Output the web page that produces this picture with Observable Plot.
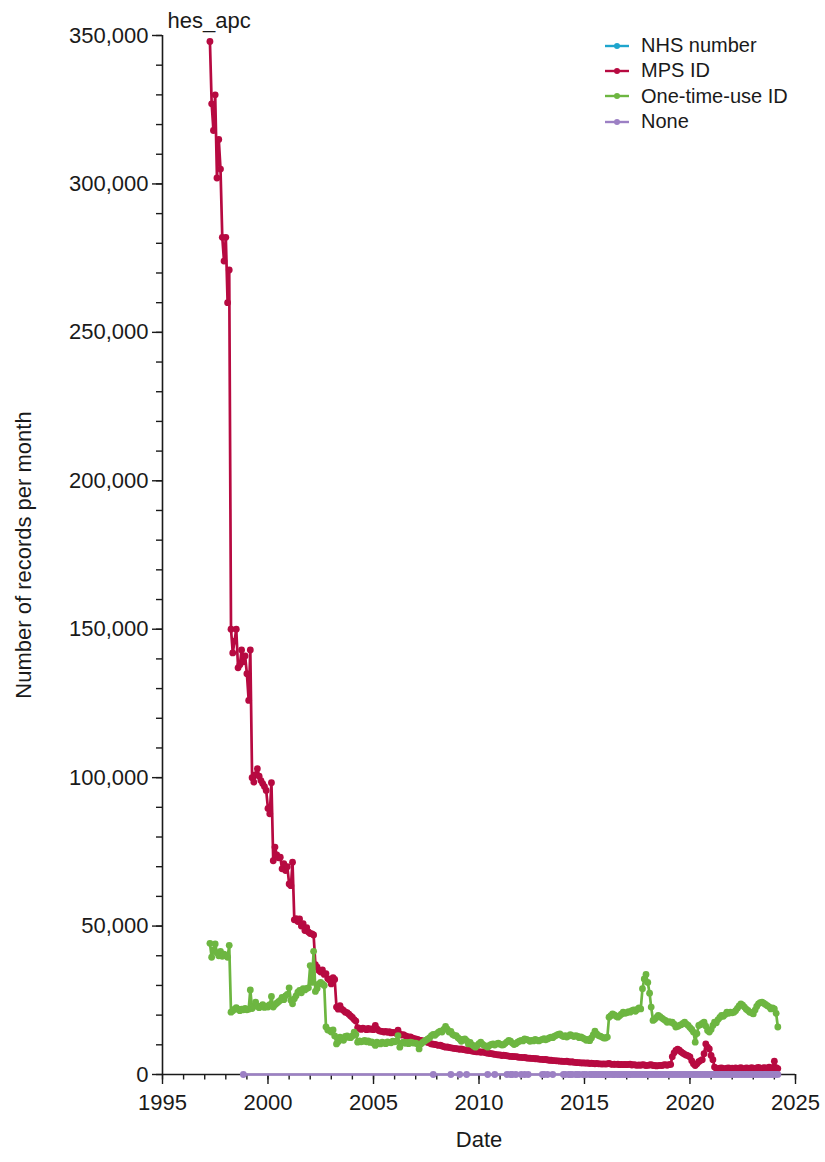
<!DOCTYPE html>
<html>
<head>
<meta charset="utf-8">
<script src="https://cdn.jsdelivr.net/npm/d3@7"></script>
<script src="https://cdn.jsdelivr.net/npm/@observablehq/plot@0.6"></script>
<style>
  body { margin: 0; background: #ffffff; }
  #chart { position: relative; width: 825px; height: 1162px; font-family: "Liberation Sans", Arial, sans-serif; }
  #legend { position: absolute; left: 605px; top: 33px; font-size: 20px; color: #1a1a1a; }
  #legend .row { display: flex; align-items: center; height: 25.3px; white-space: nowrap; }
  #legend svg { margin-right: 12px; }
</style>
</head>
<body>
<div id="chart"></div>
<script>
// Series names and colours (legend order = drawing order)
const seriesNames = ["NHS number", "MPS ID", "One-time-use ID", "None"];
const seriesColors = ["#1ea5cd", "#b70a41", "#6db641", "#9c80c4"];

// Monthly series start in April 1997; values in thousands of records per month
const firstMonth = "1997-04";

// NHS number: no monthly records
const nhsNumberK = [];

const mpsIdK = [
  348, 327, 318, 330, 302, 315, 305, 282, 274,                      // 1997 (Apr-Dec)
  282, 260, 271, 150, 142, 146, 150, 137, 138, 143, 139, 141,       // 1998
  135, 126, 143, 100, 98.5, 101, 103, 100.5, 99, 98, 97, 95.7,      // 1999
  89.6, 87.8, 98.3, 72, 76.6, 74, 73, 73.2, 69.3, 71, 68.7, 70,     // 2000
  64.2, 63.6, 71.5, 52.1, 52.5, 51.5, 52.4, 50, 50.8, 48.5, 49.5, 48, // 2001
  47.5, 47.4, 47, 37, 36.2, 35, 34.5, 35.2, 33.7, 34, 32.3, 31.8,   // 2002
  30.5, 32.6, 32, 22.7, 22, 23.2, 22, 21.6, 21, 20.8, 20.3, 19.7,   // 2003
  19.2, 18.5, 18, 15.8, 15.5, 15.2, 15.6, 15.4, 15.1, 15.5, 15.2, 15.4, // 2004
  15.1, 16.5, 15.4, 14.8, 14.6, 14.5, 14.3, 14.5, 14.2, 14.4, 14, 14.2, // 2005
  14.1, 13.8, 14.9, 13.6, 13.3, 13.4, 13.1, 12.8, 12.6, 12.7, 12.3, 12.1, // 2006
  12, 11.8, 11.6, 11.5, 11.3, 11.2, 11, 10.8, 10.6, 10.3, 10.2, 10.1, // 2007
  10, 9.8, 9.9, 9.6, 9.4, 9.2, 9.3, 9.1, 9, 8.9, 8.8, 8.7,          // 2008
  8.6, 8.5, 8.6, 8.4, 8.3, 8.2, 8.1, 8.1, 7.9, 7.8, 7.7, 7.6,       // 2009
  7.7, 7.5, 7.6, 7.5, 7.3, 7.2, 7.1, 7, 6.9, 6.8, 6.7, 6.6,         // 2010
  6.6, 6.4, 6.5, 6.4, 6.3, 6.2, 6.1, 6.1, 6, 6, 5.9, 5.8,           // 2011
  5.8, 5.7, 5.8, 5.6, 5.5, 5.5, 5.4, 5.4, 5.3, 5.3, 5.2, 5.1,       // 2012
  5.1, 5, 5.1, 4.9, 4.8, 4.8, 4.7, 4.7, 4.6, 4.6, 4.5, 4.5,         // 2013
  4.4, 4.4, 4.5, 4.3, 4.2, 4.3, 4.1, 4.1, 4, 4, 3.9, 3.9,           // 2014
  3.9, 3.8, 3.9, 3.7, 3.8, 3.7, 3.6, 3.7, 3.6, 3.6, 3.5, 3.6,       // 2015
  3.5, 3.6, 3.7, 3.5, 3.4, 3.5, 3.4, 3.5, 3.3, 3.4, 3.3, 3.4,       // 2016
  3.3, 3.4, 3.5, 3.2, 3.3, 3.2, 3.1, 3.2, 3.1, 3.3, 3.2, 3,         // 2017
  3.1, 3.2, 3.3, 3, 3.1, 2.9, 3, 3.1, 3, 3.2, 3.3, 3.1,             // 2018
  3.3, 3.4, 6, 7.3, 8.1, 8.5, 8.2, 7.6, 7.2, 6.8, 6.5, 6.3,         // 2019
  5.9, 4.6, 3.6, 3, 3.6, 4.3, 4.7, 5, 7, 10.3, 9.2, 8.6,            // 2020
  6.4, 5, 2.5, 2, 1.9, 2.1, 2.2, 2, 1.9, 2.1, 2.2, 2,               // 2021
  2.1, 1.9, 2.2, 2, 2.1, 2.3, 2, 1.9, 2.2, 2.1, 2, 2.3,             // 2022
  2.1, 2, 2.2, 2.4, 2.1, 2, 2.3, 2.2, 2, 2.5, 2.3, 2.1,             // 2023
  4.5, 2.3, 2                                                       // 2024 (Jan-Mar)
];

const oneTimeIdK = [
  44.2, 39.5, 42, 44, 41, 40, 41.5, 39.8, 40.5,                      // 1997 (Apr-Dec)
  40, 39.5, 43.5, 21, 21.5, 22, 22.5, 22, 21.5, 22, 21.8, 22.3,      // 1998
  21.8, 22, 28.5, 22.2, 23, 24.4, 23, 22.5, 23, 23.5, 22.6, 23,      // 1999
  22.7, 23.5, 26.3, 22.7, 23.5, 24, 24.5, 25, 26, 25.2, 26.5, 27,    // 2000
  29.2, 25, 23.8, 25.5, 26.5, 27.7, 28.3, 27.5, 28.9, 28.5, 29, 29.2, // 2001
  36.7, 31, 41.5, 28, 29, 30.5, 31, 30.5, 30, 16, 15, 14.8,          // 2002
  14.3, 15, 13, 10.3, 11, 12.6, 12.2, 11.5, 12.8, 13, 12.5, 12.4,    // 2003
  13, 14.3, 13.5, 10.9, 11.3, 11, 11.2, 11.5, 11, 11.3, 10.8, 11,    // 2004
  10.5, 9.8, 10.9, 10.5, 10.3, 10.9, 10.6, 10.4, 11, 10.8, 10.7, 11.2, // 2005
  11, 11.2, 13.1, 9.2, 10.6, 10.9, 10.5, 10.8, 10.4, 10.9, 10.7, 10.6, // 2006
  10.6, 10.3, 8.6, 10.3, 10.8, 11.2, 11.6, 12, 12.4, 13.1, 13.5, 13.2, // 2007
  13.8, 14.3, 14.6, 14.3, 15.2, 16.2, 15.3, 14.3, 14.5, 13.5, 13.1, 13.1, // 2008
  12.4, 11.9, 11.2, 11.8, 12, 11.4, 10.3, 10.8, 10, 9.6, 9.2, 9.8,   // 2009
  10.4, 10.9, 10.2, 9.8, 9.5, 9.2, 9.8, 10.1, 10.3, 9.9, 10.3, 10.6, // 2010
  10.2, 9.9, 10, 10.5, 11, 11.5, 11.2, 10.6, 10.1, 10.4, 10.9, 11.2, // 2011
  11.5, 11.3, 12, 11.8, 11.6, 11.2, 11.5, 11.3, 11.8, 11.5, 11.3, 11.6, // 2012
  11.8, 12.1, 11.7, 12, 12.3, 12.6, 12.4, 12.9, 13.2, 13.5, 13.7, 13.1, // 2013
  12.8, 13.1, 12.6, 13, 13.4, 13.1, 12.8, 13.1, 12.9, 12.4, 12.7, 12.3, // 2014
  12, 11.5, 11.8, 11.4, 12.3, 13.3, 14.6, 13.7, 13.1, 12.9, 12.6, 12.3, // 2015
  12.3, 12.6, 19.3, 19.8, 20.4, 20.1, 19.6, 19.3, 19.8, 20.3, 21, 20.6, // 2016
  20.8, 21.2, 21, 21.5, 21.8, 21.3, 21.9, 22.4, 22.1, 28.9, 32.2, 33.7, // 2017
  31, 27.4, 22.7, 18.2, 18.6, 19.2, 19.9, 19.5, 19, 18.6, 18.2, 17.6, // 2018
  17.8, 17.6, 17.6, 17, 16, 16.2, 16.5, 16.8, 17.2, 17.6, 17, 16.5,  // 2019
  15.8, 15.2, 14.3, 10.9, 13.8, 16.5, 16.8, 17.2, 17.6, 16.3, 14.8, 14.3, // 2020
  15.2, 16.5, 17.6, 17.4, 18.5, 19.2, 19.9, 19.6, 20.2, 21, 20.6, 21, // 2021
  20.8, 21, 21.5, 22.3, 23.1, 23.8, 23.4, 22.7, 22, 21.6, 21, 20.8,  // 2022
  20.4, 21.7, 22.9, 23.8, 24.2, 24.4, 24, 23.6, 23.2, 22.8, 22.1, 22.4, // 2023
  22.1, 20.6, 16                                                     // 2024 (Jan-Mar)
];

// "None": only the months that have records, with their counts
const noneMonths = [
  "1998-11", "2007-11", "2008-09", "2009-02", "2009-06", "2010-06", "2010-10",
  "2011-05", "2011-07", "2011-08", "2011-10", "2012-01", "2012-03", "2012-05",
  "2013-01", "2013-02", "2013-04", "2013-07",
  "2014-01", "2014-02", "2014-04", "2014-05", "2014-06", "2014-08", "2014-09", "2014-10", "2014-12",
  "2015-01", "2015-02", "2015-04", "2015-05", "2015-06", "2015-07", "2015-08", "2015-09", "2015-10", "2015-11", "2015-12",
  "2016-01", "2016-02", "2016-03", "2016-04", "2016-05", "2016-06", "2016-07", "2016-08", "2016-09", "2016-10", "2016-11", "2016-12",
  "2017-01", "2017-02", "2017-03", "2017-04", "2017-05", "2017-06", "2017-07", "2017-08", "2017-09", "2017-10", "2017-11", "2017-12",
  "2018-01", "2018-02", "2018-03", "2018-04", "2018-05", "2018-06", "2018-07", "2018-08", "2018-09", "2018-10", "2018-11", "2018-12",
  "2019-01", "2019-02", "2019-03", "2019-04", "2019-05", "2019-06", "2019-07", "2019-08", "2019-09", "2019-10", "2019-11", "2019-12",
  "2020-01", "2020-02", "2020-03", "2020-04", "2020-05", "2020-06", "2020-07", "2020-08", "2020-09", "2020-10", "2020-11", "2020-12",
  "2021-01", "2021-02", "2021-03", "2021-04", "2021-05", "2021-06", "2021-07", "2021-08", "2021-09", "2021-10", "2021-11", "2021-12",
  "2022-01", "2022-02", "2022-03", "2022-04", "2022-05", "2022-06", "2022-07", "2022-08", "2022-09", "2022-10", "2022-11", "2022-12",
  "2023-01", "2023-02", "2023-03", "2023-04", "2023-05", "2023-06", "2023-07", "2023-08", "2023-09", "2023-10", "2023-11", "2023-12",
  "2024-01", "2024-02", "2024-03"
];
const noneCounts = [
  1, 1, 2, 1, 1, 2, 1,
  1, 2, 1, 1, 2, 1, 3,
  2, 1, 2, 3,
  2, 4, 3, 2, 5, 3, 4, 2, 6,
  5, 4, 7, 3, 6, 5, 8, 4, 6, 7, 5,
  6, 8, 5, 9, 7, 6, 10, 8, 7, 9, 11, 8,
  9, 12, 8, 10, 11, 9, 13, 10, 12, 11, 9, 14,
  12, 10, 13, 11, 15, 12, 14, 13, 11, 16, 12, 15,
  14, 13, 17, 15, 12, 16, 18, 14, 15, 17, 13, 16,
  15, 14, 12, 9, 11, 13, 15, 14, 16, 18, 15, 17,
  16, 19, 15, 17, 20, 18, 16, 19, 21, 17, 18, 20,
  19, 17, 21, 18, 20, 22, 19, 21, 18, 23, 20, 22,
  21, 19, 23, 20, 22, 24, 21, 23, 20, 25, 22, 21,
  23, 20, 18
];

// Axis ticks
const xTickYears = [1995, 2000, 2005, 2010, 2015, 2020, 2025];
const yTickValues = [0, 50000, 100000, 150000, 200000, 250000, 300000, 350000];

// Build a tidy table from the arrays
const parseMonth = d3.utcParse("%Y-%m");
const start = parseMonth(firstMonth);
const monthly = (name, valuesK) =>
  valuesK.map((v, i) => ({series: name, date: d3.utcMonth.offset(start, i), records: v * 1000}));
const rows = [
  ...monthly("NHS number", nhsNumberK),
  ...monthly("MPS ID", mpsIdK),
  ...monthly("One-time-use ID", oneTimeIdK),
  ...noneMonths.map((m, i) => ({series: "None", date: parseMonth(m), records: noneCounts[i]}))
];

const yearDate = (y) => new Date(Date.UTC(y, 0, 1));
const xDomain = [yearDate(xTickYears[0]), yearDate(xTickYears[xTickYears.length - 1])];
const yMax = yTickValues[yTickValues.length - 1];
const colorOf = Object.fromEntries(seriesNames.map((n, i) => [n, seriesColors[i]]));
const thousands = d3.format(",");

const seriesMarks = seriesNames.flatMap((name) => {
  const data = rows.filter((d) => d.series === name);
  return [
    Plot.line(data, {x: "date", y: "records", stroke: colorOf[name], strokeWidth: 2.7}),
    Plot.dot(data, {x: "date", y: "records", fill: colorOf[name], r: 3.4})
  ];
});

const chart = Plot.plot({
  width: 825,
  height: 1162,
  marginLeft: 162,
  marginRight: 30,
  marginTop: 35,
  marginBottom: 88,
  style: {fontFamily: "'Liberation Sans', Arial, sans-serif", fontSize: "22px", color: "#1a1a1a", background: "#ffffff"},
  x: {type: "utc", domain: xDomain},
  y: {domain: [0, yMax]},
  marks: [
    // minor ticks: every year / every 10,000
    Plot.axisX(d3.range(xTickYears[0], xTickYears[xTickYears.length - 1] + 1).map(yearDate),
      {tickSize: 5.5, tickFormat: () => "", label: null, strokeWidth: 1.4}),
    Plot.axisY(d3.range(0, yMax + 1, 10000), {tickSize: 6, tickFormat: () => "", label: null, strokeWidth: 1.4}),
    // major ticks with labels
    Plot.axisX(xTickYears.map(yearDate),
      {tickSize: 10, tickPadding: 10, tickFormat: d3.utcFormat("%Y"), label: null, strokeWidth: 1.4, fill: "#1a1a1a"}),
    Plot.axisY(yTickValues, {tickSize: 10, tickPadding: 4, tickFormat: thousands, label: null, strokeWidth: 1.4, fill: "#1a1a1a"}),
    // axis lines
    Plot.ruleY([0], {x1: xDomain[0], x2: xDomain[1], strokeWidth: 1.6}),
    Plot.ruleX([xDomain[0]], {y1: 0, y2: yMax, strokeWidth: 1.6}),
    ...seriesMarks,
    // title and axis titles
    Plot.text(["hes_apc"], {frameAnchor: "top-left", dx: 5, dy: -23, textAnchor: "start", fontSize: 22, fill: "#1a1a1a"}),
    Plot.text(["Number of records per month"], {frameAnchor: "left", rotate: -90, dx: -139, textAnchor: "middle", fontSize: 22, fill: "#1a1a1a"}),
    Plot.text(["Date"], {frameAnchor: "bottom", dy: 72, textAnchor: "middle", fontSize: 22, fill: "#1a1a1a"})
  ]
});

const container = document.getElementById("chart");
container.appendChild(chart);

// Legend: line-with-dot swatch for each series
const legend = document.createElement("div");
legend.id = "legend";
seriesNames.forEach((name, i) => {
  const row = document.createElement("div");
  row.className = "row";
  row.innerHTML =
    `<svg width="24" height="10"><line x1="0" y1="5" x2="24" y2="5" stroke="${seriesColors[i]}" stroke-width="2.4"/>` +
    `<circle cx="12" cy="5" r="3" fill="${seriesColors[i]}"/></svg><span>${name}</span>`;
  legend.appendChild(row);
});
container.appendChild(legend);
</script>
</body>
</html>
